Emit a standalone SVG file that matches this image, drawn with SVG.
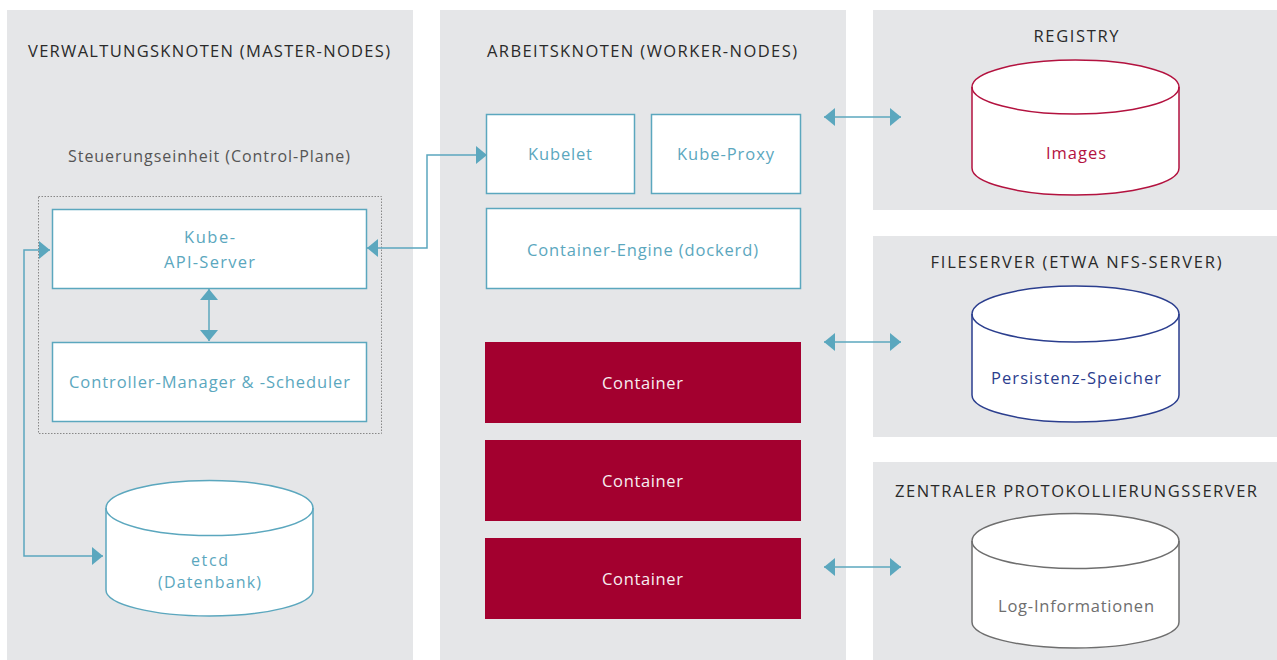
<svg xmlns="http://www.w3.org/2000/svg" width="1277" height="660" viewBox="0 0 1277 660">
<style>
.panel{fill:#E5E6E8}
.box{fill:#fff;stroke:#5BA7BE;stroke-width:1.5}
.cont{fill:#A3002F}
.t{font-family:"Open Sans",Roboto,"Liberation Sans",sans-serif;font-size:16.5px;text-anchor:middle}
.teal{fill:#5BA7BE}
.title{font-family:"Open Sans",Roboto,"Liberation Sans",sans-serif;font-size:16.5px;fill:#2a2a2a}
.conn{fill:none;stroke:#5BA7BE;stroke-width:1.5}
</style>
<defs>
<marker id="ah" markerUnits="userSpaceOnUse" markerWidth="11" markerHeight="18" refX="11" refY="9" orient="auto-start-reverse" viewBox="0 0 11 18">
<path d="M0,0 L11,9 L0,18 Z" fill="#5BA7BE"/>
</marker>
</defs>
<rect width="1277" height="660" fill="#fff"/>
<g id="panels">
<rect class="panel" x="7" y="10" width="406" height="650"/>
<rect class="panel" x="440" y="10" width="406" height="650"/>
<rect class="panel" x="873" y="10" width="404" height="200"/>
<rect class="panel" x="873" y="236" width="404" height="201"/>
<rect class="panel" x="873" y="462" width="404" height="198"/>
</g>
<g id="titles">
<text class="title" x="28" y="57" textLength="362" lengthAdjust="spacing">VERWALTUNGSKNOTEN (MASTER-NODES)</text>
<text class="title" x="487" y="57" textLength="310" lengthAdjust="spacing">ARBEITSKNOTEN (WORKER-NODES)</text>
<text class="title" x="1076" y="42" text-anchor="middle" textLength="85" lengthAdjust="spacing">REGISTRY</text>
<text class="title" x="1076" y="268" text-anchor="middle" textLength="291" lengthAdjust="spacing">FILESERVER (ETWA NFS-SERVER)</text>
<text class="title" x="1076" y="497" text-anchor="middle" textLength="362" lengthAdjust="spacing">ZENTRALER PROTOKOLLIERUNGSSERVER</text>
</g>
<g id="control-plane">
<rect x="38.5" y="196.5" width="343" height="237" fill="none" stroke="#888" stroke-width="1" stroke-dasharray="1.5,1.5"/>
<text x="209" y="162" font-family="'Open Sans',Roboto,'Liberation Sans',sans-serif" font-size="16" fill="#555" text-anchor="middle" textLength="282" lengthAdjust="spacing">Steuerungseinheit (Control-Plane)</text>
</g>
<g id="api-server">
<rect class="box" x="52.5" y="209.5" width="314" height="79"/>
<text class="t teal" x="209.5" y="243" textLength="51" lengthAdjust="spacing">Kube-</text>
<text class="t teal" x="209.5" y="268" textLength="91" lengthAdjust="spacing">API-Server</text>
</g>
<g id="controller">
<rect class="box" x="52.5" y="342.5" width="314" height="79"/>
<text class="t teal" x="209.5" y="388" textLength="281" lengthAdjust="spacing">Controller-Manager &amp; -Scheduler</text>
</g>
<g id="etcd">
<path d="M106,508 A103.5,27.5 0 0 1 313,508 V590 A103.5,26 0 0 1 106,590 Z" fill="#fff" stroke="#5BA7BE" stroke-width="1.5"/>
<path d="M106,508 A103.5,27.5 0 0 0 313,508" fill="none" stroke="#5BA7BE" stroke-width="1.5"/>
<text class="t teal" x="209.5" y="566" font-size="16" textLength="37" lengthAdjust="spacing" style="font-size:16px">etcd</text>
<text class="t teal" x="209.5" y="588" font-size="16" textLength="103" lengthAdjust="spacing" style="font-size:16px">(Datenbank)</text>
</g>
<g id="kubelet">
<rect class="box" x="486.5" y="114.5" width="148" height="79"/>
<text class="t teal" x="560" y="160" textLength="64" lengthAdjust="spacing">Kubelet</text>
</g>
<g id="kube-proxy">
<rect class="box" x="651.5" y="114.5" width="149" height="79"/>
<text class="t teal" x="725.5" y="160" textLength="97" lengthAdjust="spacing">Kube-Proxy</text>
</g>
<g id="container-engine">
<rect class="box" x="486.5" y="208.5" width="314" height="80"/>
<text class="t teal" x="642.5" y="256" textLength="231" lengthAdjust="spacing">Container-Engine (dockerd)</text>
</g>
<g id="container1">
<rect class="cont" x="485" y="342" width="316" height="81"/>
<text class="t" x="642.5" y="389" fill="#F7EEF1" textLength="81" lengthAdjust="spacing">Container</text>
</g>
<g id="container2">
<rect class="cont" x="485" y="440" width="316" height="81"/>
<text class="t" x="642.5" y="487" fill="#F7EEF1" textLength="81" lengthAdjust="spacing">Container</text>
</g>
<g id="container3">
<rect class="cont" x="485" y="538" width="316" height="81"/>
<text class="t" x="642.5" y="585" fill="#F7EEF1" textLength="81" lengthAdjust="spacing">Container</text>
</g>
<g id="registry">
<path d="M972,87 A103.5,27 0 0 1 1179,87 V168 A103.5,27 0 0 1 972,168 Z" fill="#fff" stroke="#B3123F" stroke-width="1.5"/>
<path d="M972,87 A103.5,27 0 0 0 1179,87" fill="none" stroke="#B3123F" stroke-width="1.5"/>
<text class="t" x="1076" y="159" fill="#B3123F" textLength="60" lengthAdjust="spacing">Images</text>
</g>
<g id="fileserver">
<path d="M972,314 A103.5,28 0 0 1 1179,314 V395 A103.5,27 0 0 1 972,395 Z" fill="#fff" stroke="#2B3E8E" stroke-width="1.5"/>
<path d="M972,314 A103.5,28 0 0 0 1179,314" fill="none" stroke="#2B3E8E" stroke-width="1.5"/>
<text class="t" x="1076" y="384" fill="#2B3E8E" textLength="170" lengthAdjust="spacing">Persistenz-Speicher</text>
</g>
<g id="logserver">
<path d="M972,541 A103.5,27.5 0 0 1 1179,541 V622 A103.5,26 0 0 1 972,622 Z" fill="#fff" stroke="#6E6E6E" stroke-width="1.5"/>
<path d="M972,541 A103.5,27.5 0 0 0 1179,541" fill="none" stroke="#6E6E6E" stroke-width="1.5"/>
<text class="t" x="1076" y="612" fill="#6E6E6E" textLength="156" lengthAdjust="spacing">Log-Informationen</text>
</g>
<g id="connectors">
<line class="conn" x1="209" y1="289" x2="209" y2="341" marker-start="url(#ah)" marker-end="url(#ah)"/>
<path class="conn" d="M367,248 H427 V155 H487" marker-start="url(#ah)" marker-end="url(#ah)"/>
<path class="conn" d="M50,250 H24 V556 H103" marker-start="url(#ah)" marker-end="url(#ah)"/>
<line class="conn" x1="824" y1="117" x2="901" y2="117" marker-start="url(#ah)" marker-end="url(#ah)"/>
<line class="conn" x1="824" y1="342" x2="901" y2="342" marker-start="url(#ah)" marker-end="url(#ah)"/>
<line class="conn" x1="824" y1="567" x2="901" y2="567" marker-start="url(#ah)" marker-end="url(#ah)"/>
</g>
</svg>
